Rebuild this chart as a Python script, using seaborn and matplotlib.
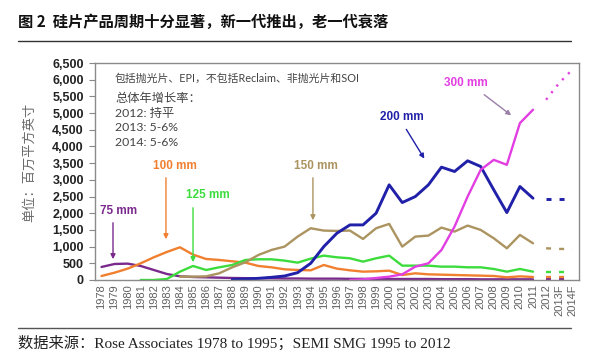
import numpy as np
import pandas as pd
import seaborn as sns
import matplotlib.pyplot as plt
from matplotlib.lines import Line2D

# categories
years = [str(y) for y in range(1978, 2013)] + ['2013F', '2014F']
hist_years = years[:34]      # 1978-2011 actual
fc_years = years[34:]        # 2012, 2013F, 2014F forecast

nan = np.nan
# million square inches
mm75 = [390, 480, 490, 420, 300, 180, 110, 90, 80, 70,
        60, 55, 50, 50, 45, 45, 40, 40, 40, 35,
        35, 30, 30, 30, 30, 30, 25, 25, 25, 20,
        20, 20, 20, 20]
mm100 = [120, 220, 340, 500, 680, 840, 980, 760, 630, 600,
         560, 520, 420, 380, 320, 300, 290, 450, 340, 290,
         250, 260, 280, 150, 200, 170, 160, 150, 140, 130,
         120, 80, 110, 90]
mm125 = [nan, nan, nan, 0, 0, 30, 250, 420, 300, 380,
         450, 600, 620, 620, 580, 520, 640, 730, 680, 650,
         550, 650, 730, 430, 430, 430, 400, 400, 380, 380,
         330, 250, 330, 250]
mm150 = [nan, nan, nan, nan, nan, nan, 100, 100, 110, 200,
         380, 530, 750, 900, 1000, 1300, 1550, 1480, 1470, 1480,
         1230, 1550, 1680, 1000, 1300, 1330, 1570, 1450, 1630, 1500,
         1250, 950, 1350, 1100]
mm200 = [nan, nan, nan, nan, nan, nan, nan, nan, nan, nan,
         20, 30, 50, 80, 120, 220, 500, 1000, 1400, 1650,
         1650, 2000, 2850, 2320, 2500, 2850, 3380, 3250, 3570, 3400,
         2700, 2020, 2800, 2450]
mm300 = [nan, nan, nan, nan, nan, nan, nan, nan, nan, nan,
         nan, nan, nan, nan, nan, nan, nan, nan, nan, 0,
         20, 60, 100, 170, 400, 500, 900, 1600, 2500, 3300,
         3600, 3450, 4700, 5100]

fc75 = [30, 30, 30]
fc100 = [80, 80, 80]
fc125 = [230, 230, 230]
fc150 = [950, 930, 930]
fc200 = [2420, 2420, 2420]
fc300 = [5400, 5900, 6300]

names = ['75 mm', '100 mm', '125 mm', '150 mm', '200 mm', '300 mm']
hist = [mm75, mm100, mm125, mm150, mm200, mm300]
fcst = [fc75, fc100, fc125, fc150, fc200, fc300]
colors = ['#7a2a8c', '#f08030', '#3ddc3d', '#ab9460', '#2020a8', '#e23ee2']
widths = [1.7, 1.7, 1.7, 1.7, 2.1, 1.7]

pos = {y: i for i, y in enumerate(years)}
rows = []
for n, h, f in zip(names, hist, fcst):
    for y, v in zip(hist_years, h):
        rows.append((n, 'actual', pos[y], v))
    for y, v in zip(fc_years, f):
        rows.append((n, 'forecast', pos[y], v))
df = pd.DataFrame(rows, columns=['size', 'kind', 'x', 'value']).dropna()

sns.set_style('white')
plt.rcParams['font.family'] = ['Liberation Sans', 'Noto Sans CJK SC']
plt.rcParams['lines.scale_dashes'] = False
plt.rcParams['lines.solid_joinstyle'] = 'round'

fig = plt.figure(figsize=(6.01, 3.5), dpi=100)
ax = fig.add_axes([0.158, 0.2, 0.805, 0.62])

for n, c, w in zip(names, colors, widths):
    d = df[(df['size'] == n) & (df['kind'] == 'actual')]
    sns.lineplot(data=d, x='x', y='value', color=c, lw=w, ax=ax)
    d = df[(df['size'] == n) & (df['kind'] == 'forecast')]
    ls = (0, (1.6, 4.5)) if n == '300 mm' else (0, (3.6, 5.8))
    sns.lineplot(data=d, x='x', y='value', color=c, lw=w, ax=ax, linestyle=ls)

ax.set_xlim(-0.5, 36.5)
ax.set_ylim(0, 6500)
ax.set_xticks(range(len(years)))
ax.set_xticklabels(years, rotation=90, fontsize=8, color='#606060')
ax.set_xticks(np.arange(-0.5, len(years), 1), minor=True)
ax.tick_params(axis='x', which='major', length=0, pad=3)
ax.tick_params(axis='x', which='minor', length=4, color='#888888', width=0.8)
yt = list(range(0, 6501, 500))
ax.set_yticks(yt)
ax.set_yticklabels([f'{t:,}' for t in yt], fontweight='bold', fontsize=9, color='#222222')
ax.tick_params(axis='y', length=4, color='#888888', width=0.8, pad=4, left=True)
ax.set_xlabel('')
ax.set_ylabel('')
for s in ax.spines.values():
    s.set_visible(True)
    s.set_color('#8a8a8a')
    s.set_linewidth(1)

# labels with arrows
labels = [
    ('75 mm', 1.34, 2067, 0.88, 1797, 0.88, 540, '#7a2a8c'),
    ('100 mm', 5.6, 3415, 4.93, 3145, 4.93, 1138, '#f08030'),
    ('125 mm', 8.14, 2546, 7.0, 2247, 7.0, 450, '#3ddc3d'),
    ('150 mm', 16.4, 3415, 16.17, 3145, 16.17, 1707, '#ab9460'),
    ('200 mm', 23.0, 4882, 23.2, 4583, 24.8, 3565, '#2020a8'),
    ('300 mm', 27.9, 5900, 29.1, 5601, 31.5, 4882, '#e23ee2'),
]
for txt, tx, ty, ax0, ay0, ax1, ay1, c in labels:
    ax.text(tx, ty, txt, color=c, fontsize=8.5, fontweight='bold', ha='center', va='center')
    ac = '#9a7fa8' if txt == '300 mm' else c
    ax.annotate('', xy=(ax1, ay1), xytext=(ax0, ay0),
                arrowprops=dict(arrowstyle='-|>', color=ac, lw=1, mutation_scale=7))

note_font = ['Lato', 'Noto Sans CJK SC']
fig.text(115 / 601, 1 - 78 / 350, '包括抛光片、EPI，不包括Reclaim、非抛光片和SOI',
         fontsize=7.8, color='#444444', va='center', family=note_font)
for yy, t in [(98, '总体年增长率：'), (113, '2012: 持平'), (128, '2013: 5-6%'), (143, '2014: 5-6%')]:
    fig.text(115 / 601, 1 - yy / 350, t, fontsize=8.8, color='#444444', va='center', family=note_font)

fig.text(30 / 601, 1 - 162 / 350, '单位：百万平方英寸', rotation=90, fontsize=9.5,
         color='#6a6a6a', ha='center', va='center', family=['Noto Sans CJK SC'])

fig.text(18 / 601, 1 - 22 / 350, '图 2  硅片产品周期十分显著，新一代推出，老一代衰落',
         fontsize=11, fontweight='bold', color='#111111', va='center',
         family=['Noto Sans CJK SC', 'DejaVu Sans'])
fig.add_artist(Line2D([18 / 601, 571 / 601], [1 - 41 / 350] * 2, color='#333333', lw=1))
fig.add_artist(Line2D([18 / 601, 571 / 601], [1 - 328 / 350] * 2, color='#555555', lw=1))
fig.text(18 / 601, 1 - 343 / 350, '数据来源：Rose Associates 1978 to 1995；SEMI SMG 1995 to 2012',
         fontsize=11, color='#222222', va='center',
         family=['Liberation Serif', 'Noto Sans CJK SC'])

fig.savefig('out.png', dpi=100)
